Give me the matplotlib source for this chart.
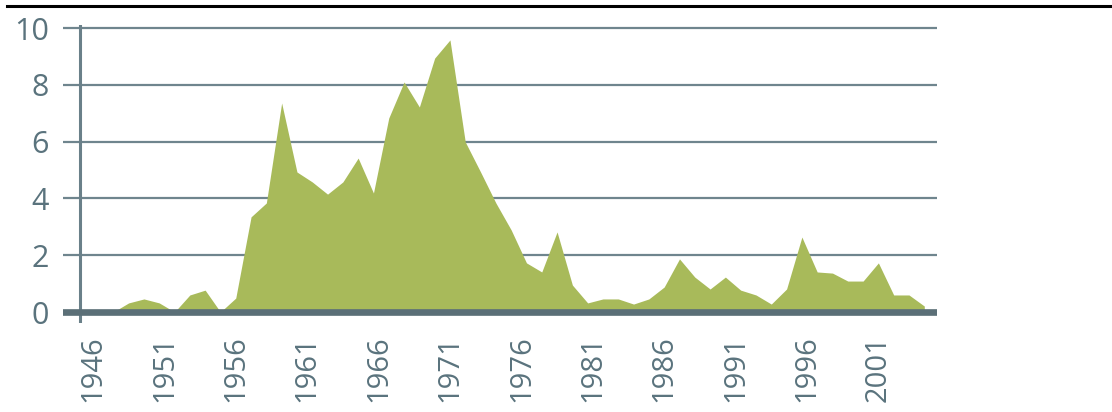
import matplotlib
matplotlib.use("Agg")
import matplotlib.pyplot as plt
import numpy as np
from matplotlib.lines import Line2D

# ---- data ----
years = list(range(1947, 2003))
values = [0, 0, 0, 0.32, 0.46, 0.32, 0, 0.6, 0.77, 0,
          0.49, 3.35, 3.84, 7.36, 4.93, 4.58, 4.15, 4.58, 5.42, 4.19,
          6.83, 8.1, 7.22, 8.94, 9.58, 5.99, 4.93, 3.84, 2.89, 1.73,
          1.41, 2.82, 0.95, 0.32, 0.46, 0.46, 0.28, 0.46, 0.88, 1.87,
          1.23, 0.81, 1.23, 0.77, 0.6, 0.28, 0.81, 2.64, 1.41, 1.37,
          1.09, 1.09, 1.73, 0.6, 0.6, 0.21]
tick_years = [1946, 1951, 1956, 1961, 1966, 1971, 1976, 1981, 1986, 1991, 1996, 2001]
y_ticks = [0, 2, 4, 6, 8, 10]

# ---- style ----
GREEN = "#a8ba5a"
SLATE = "#5a737d"
GRID = "#6f858e"
ZERO = "#5b6f77"
plt.rcParams['font.family'] = ['Open Sans', 'DejaVu Sans']

fig = plt.figure(figsize=(11.12, 4.12), dpi=100)
fig.patch.set_facecolor("white")
ax = fig.add_axes([63/1112, 1-323/412, (937-63)/1112, (323-25)/412])
ax.set_facecolor("none")

ax.set_xlim(1945.71, 2002.83)
ax.set_ylim(-0.387, 10.106)

ax.fill_between(years, values, 0, color=GREEN, linewidth=0, zorder=2)

for v in y_ticks[1:]:
    ax.axhline(v, color=GRID, lw=1.6, zorder=1)
ax.axhline(0, color=ZERO, lw=4.8, zorder=3)
ax.axvline(1946.82, color="#6a8089", lw=2.2, zorder=1)

for s in ax.spines.values():
    s.set_visible(False)

ax.set_yticks(y_ticks)
ax.set_yticklabels([str(v) for v in y_ticks])
# tick labels in the original are spaced slightly tighter than the data points
label_scale = 14.27 / 15.3
ax.set_xticks([1971 + (t - 1971) * label_scale for t in tick_years])
ax.set_xticklabels([str(t) for t in tick_years], rotation=90)
ax.tick_params(axis='y', length=0, pad=10, labelsize=22, labelcolor=SLATE)
ax.tick_params(axis='x', length=0, pad=9, labelsize=21, labelcolor=SLATE)
for lab in ax.get_xticklabels():
    lab.set_va('top')

fig.add_artist(Line2D([7/1112, 1.0], [1-6/412, 1-6/412], color="black", lw=2.2,
                      transform=fig.transFigure))

fig.savefig("out.png", dpi=100)
